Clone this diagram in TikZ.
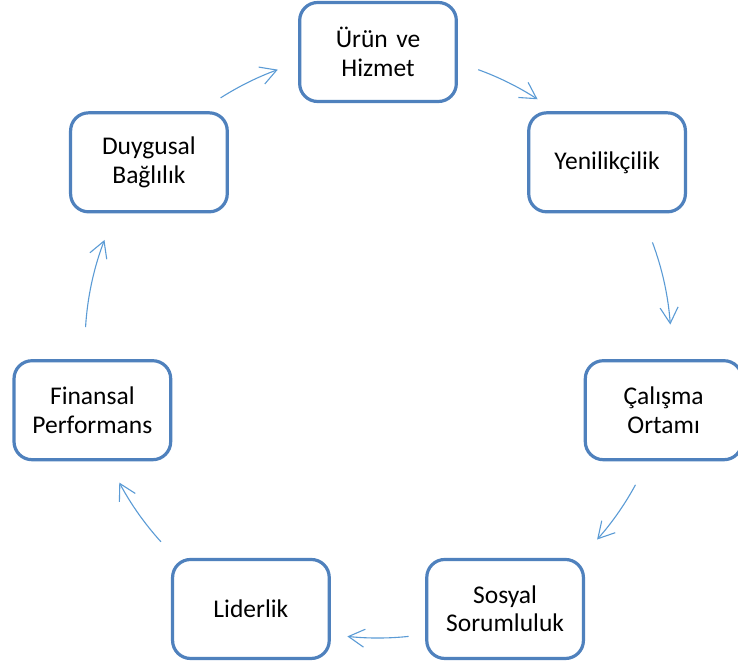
\documentclass[tikz,border=0pt]{standalone}
\usepackage{fontspec}
\setmainfont{Carlito}
\usetikzlibrary{arrows.meta,calc}
\definecolor{boxblue}{RGB}{79,129,189}
\definecolor{arrowblue}{RGB}{91,155,213}
\begin{document}
\begin{tikzpicture}[x=1pt, y=1pt]
    \tikzstyle{topic} = [draw=boxblue, line width=3.2pt, rounded corners=18pt, fill=white,
      minimum width=155pt, minimum height=99pt, text width=150pt, align=center,
      font=\fontsize{25.5}{28.5}\selectfont]
    \tikzstyle{cycle arrow} = [draw=arrowblue, line width=1.1pt,
      -{Straight Barb[length=16pt, width=18pt]}]
    \useasboundingbox (0,0) rectangle (738,667);
    \coordinate (centre) at (378,322);
    \node[topic] (urun) at ($(centre)+(90:293)$) {Ürün ve\\Hizmet};
    \node[topic] (yenilik) at ($(centre)+(38.57:293)$) {Yenilikçilik};
    \node[topic] (ortam) at ($(centre)+(-12.86:293)$) {Çalışma\\Ortamı};
    \node[topic] (sosyal) at ($(centre)+(-64.29:293)$) {Sosyal\\Sorumluluk};
    \node[topic] (lider) at ($(centre)+(-115.71:293)$) {Liderlik};
    \node[topic] (finans) at ($(centre)+(-167.14:293)$) {Finansal\\Performans};
    \node[topic] (duygu) at ($(centre)+(141.43:293)$) {Duygusal\\Bağlılık};
    % arrow start points on the circle
    \coordinate (urun-out) at ($(centre)+(70:293)$);
    \coordinate (yenilik-out) at ($(centre)+(20.5:293)$);
    \coordinate (ortam-out) at ($(centre)+(-28.5:293)$);
    \coordinate (sosyal-out) at ($(centre)+(-84:293)$);
    \coordinate (lider-out) at ($(centre)+(-137.8:293)$);
    \coordinate (finans-out) at ($(centre)+(176.5:293)$);
    \coordinate (duygu-out) at ($(centre)+(122.5:293)$);
    \draw[cycle arrow] (urun-out) arc[start angle=70, end angle=57, radius=293];
    \draw[cycle arrow] (yenilik-out) arc[start angle=20.5, end angle=4, radius=293];
    \draw[cycle arrow] (ortam-out) arc[start angle=-28.5, end angle=-41.6, radius=293];
    \draw[cycle arrow] (sosyal-out) arc[start angle=-84, end angle=-96, radius=293];
    \draw[cycle arrow] (lider-out) arc[start angle=-137.8, end angle=-152, radius=293];
    \draw[cycle arrow] (finans-out) arc[start angle=176.5, end angle=159, radius=293];
    \draw[cycle arrow] (duygu-out) arc[start angle=122.5, end angle=110, radius=293];
\end{tikzpicture}
\end{document}
